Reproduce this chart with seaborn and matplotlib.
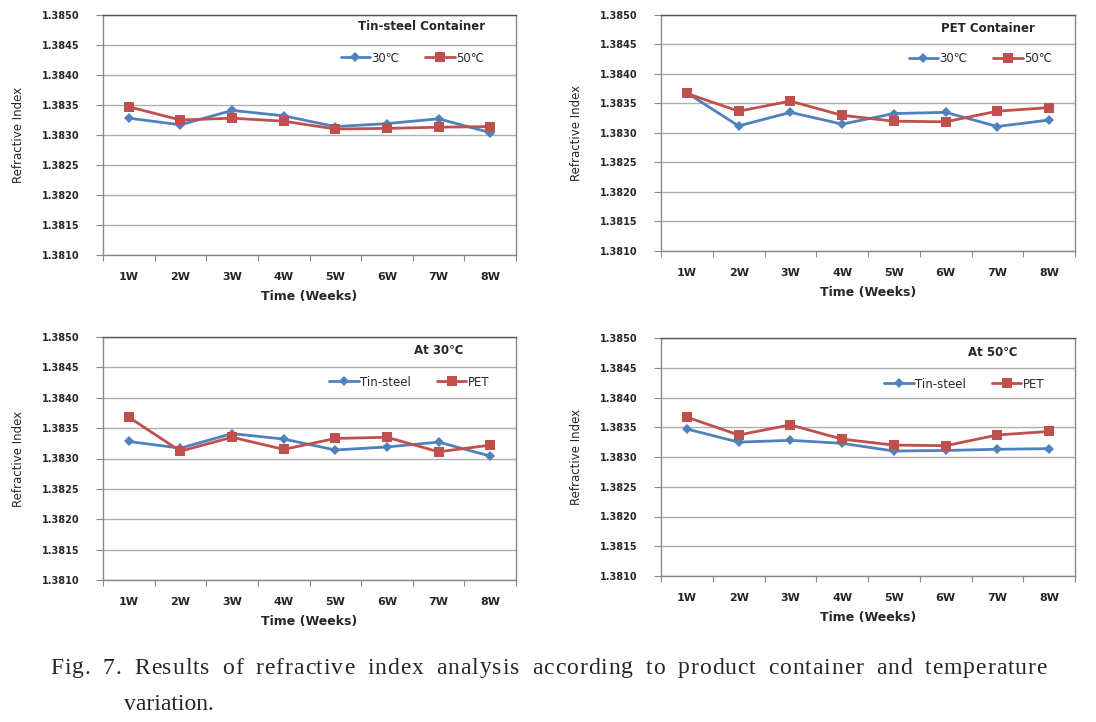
import numpy as np
import pandas as pd
import seaborn as sns
import matplotlib.pyplot as plt
from matplotlib.ticker import FixedLocator, NullFormatter

weeks = ["1W", "2W", "3W", "4W", "5W", "6W", "7W", "8W"]
tin_30 = [1.38328, 1.38317, 1.38341, 1.38332, 1.38314, 1.38319, 1.38327, 1.38304]
tin_50 = [1.38347, 1.38325, 1.38328, 1.38323, 1.38310, 1.38311, 1.38313, 1.38314]
pet_30 = [1.38368, 1.38312, 1.38335, 1.38315, 1.38333, 1.38335, 1.38311, 1.38322]
pet_50 = [1.38367, 1.38337, 1.38354, 1.38330, 1.38320, 1.38319, 1.38337, 1.38343]
yticks = [1.3810, 1.3815, 1.3820, 1.3825, 1.3830, 1.3835, 1.3840, 1.3845, 1.3850]

BLUE = "#4F81BD"
RED = "#C0504D"

sns.set_style("white")
plt.rcParams['font.family'] = ['DejaVu Sans']

fig = plt.figure(figsize=(10.96, 7.22), dpi=100)
W, H = 1096, 722

# axes box (left, top, right, bottom) in pixels
boxes = [(103, 15, 516, 255), (661, 15, 1075, 251),
         (103, 337, 516, 580), (661, 338, 1075, 576)]
# title right edge / centre y, legend right edge / centre y (pixels)
label_pos = [(485, 27, 490, 58), (1035, 29, 1058, 59),
             (463, 351, 495, 382), (1018, 353, 1050, 384)]
panels = [
    ("Tin-steel Container", ("30\u2103", tin_30), ("50\u2103", tin_50)),
    ("PET Container", ("30\u2103", pet_30), ("50\u2103", pet_50)),
    ("At 30\u2103", ("Tin-steel", tin_30), ("PET", pet_30)),
    ("At 50\u2103", ("Tin-steel", tin_50), ("PET", pet_50)),
]

x = np.arange(1, 9)
for (l, t, r, b), (tx, ty, lx, ly), (title, s1, s2) in zip(boxes, label_pos, panels):
    ax = fig.add_axes([l / W, 1 - b / H, (r - l) / W, (b - t) / H])
    df = pd.DataFrame({
        "week": np.concatenate([x, x]),
        "value": s1[1] + s2[1],
        "series": [s1[0]] * 8 + [s2[0]] * 8,
    })
    sns.lineplot(data=df, x="week", y="value", hue="series", style="series",
                 palette=[BLUE, RED], markers=["D", "s"], dashes=False,
                 markersize=5, linewidth=2, markeredgewidth=0, ax=ax)
    for ln in ax.get_lines():
        if ln.get_marker() == "s":
            ln.set_markersize(7)
    ax.set_xlim(0.5, 8.5)
    ax.set_ylim(1.3810, 1.3850)
    ax.set_yticks(yticks)
    ax.set_yticklabels([f"{v:.4f}" for v in yticks], fontsize=7, fontweight="bold")
    ax.yaxis.grid(True, color="#B0B0B0", linewidth=1)
    ax.set_axisbelow(True)
    ax.tick_params(axis="y", left=True, length=5, color="#888888", pad=12)
    ax.xaxis.set_major_locator(FixedLocator(np.arange(0.5, 9, 1)))
    ax.xaxis.set_major_formatter(NullFormatter())
    ax.xaxis.set_minor_locator(FixedLocator(x))
    ax.set_xticklabels(weeks, minor=True, fontsize=8, fontweight="bold")
    ax.tick_params(axis="x", which="major", bottom=True, length=4, color="#888888", direction="out")
    ax.tick_params(axis="x", which="minor", length=0, pad=12)
    for sp in ax.spines.values():
        sp.set_color("#888888")
        sp.set_linewidth(1)
    ax.spines["top"].set_color("#555555")
    ax.set_xlabel("Time (Weeks)", fontsize=9, fontweight="bold", labelpad=6)
    ax.set_ylabel("Refractive Index", fontsize=8.5, labelpad=12)
    ax.text(tx / W, 1 - ty / H, title, transform=fig.transFigure, ha="right", va="center",
            fontsize=8.5, fontweight="bold")
    leg = ax.legend(loc="center right", bbox_to_anchor=(lx / W, 1 - ly / H),
                    bbox_transform=fig.transFigure, ncol=2, frameon=False,
                    fontsize=8.5, handlelength=2.5, handletextpad=0.1,
                    columnspacing=2.2, borderpad=0)
    for h in leg.legend_handles:
        h.set_linewidth(2)

# caption: first line justified between x=50 and x=1047
# (extra room goes mostly to word gaps, a little to letter gaps)
cap1 = "Fig. 7. Results of refractive index analysis according to product container and temperature"
cap_font = dict(fontsize=17, family="Liberation Serif")
renderer = fig.canvas.get_renderer()
probe = fig.text(0, 0, "x", **cap_font)
widths = []
for ch in cap1:
    probe.set_text("x" + ch + "x")
    w3 = probe.get_window_extent(renderer).width
    probe.set_text("xx")
    w2 = probe.get_window_extent(renderer).width
    widths.append(w3 - w2)
probe.remove()
x0, x1 = 50, 1047
weights = [6.0 if ch == " " else 1.0 for ch in cap1[:-1]]
unit = (x1 - x0 - sum(widths)) / sum(weights)
cx = x0
for i, (ch, wd) in enumerate(zip(cap1, widths)):
    if ch != " ":
        fig.text(cx / W, 1 - 668 / H, ch, va="center", ha="left", **cap_font)
    cx += wd + (unit * weights[i] if i < len(weights) else 0)
fig.text(124 / W, 1 - 704 / H, "variation.", va="center", ha="left", **cap_font)

fig.savefig("out.png", dpi=100, facecolor="white")
